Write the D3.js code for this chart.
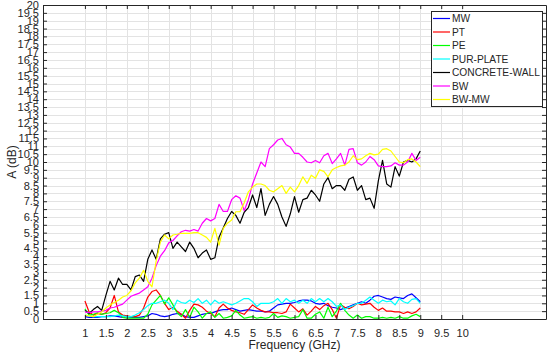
<!DOCTYPE html>
<html>
<head>
<meta charset="utf-8">
<script src="https://cdn.jsdelivr.net/npm/d3@7"></script>
<style>
  body { margin: 0; background: #fff; }
  text { font-family: "Liberation Sans", Arial, sans-serif; fill: #262626; }
</style>
</head>
<body>
<svg id="chart"></svg>
<script>
// frequency samples, 1 to 9 GHz every 0.1 GHz
const freq = d3.range(81).map(i => +(1 + i * 0.1).toFixed(1));

const mw = [0.15,0.1,0.1,0.1,0.15,0.15,0.2,0.2,0.15,0.1,
  0.15,0.1,0.1,0.1,0.15,0.2,0.35,0.3,0.2,0.15,
  0.2,0.3,0.35,0.3,0.15,0.1,0.1,0.2,0.3,0.35,
  0.35,0.45,0.55,0.6,0.6,0.7,0.6,0.5,0.55,0.6,
  0.55,0.5,0.5,0.45,0.5,0.7,0.9,0.95,1.0,1.0,
  1.05,1.15,1.2,1.2,1.15,1.0,0.95,1.0,0.85,0.75,
  0.7,0.6,0.7,0.8,0.9,1.0,1.1,1.0,1.2,1.45,
  1.5,1.4,1.3,1.25,1.4,1.35,1.3,1.5,1.6,1.35,1.1];

const pt = [1.15,0.45,0.25,0.35,0.3,0.4,0.7,1.5,0.45,0.25,
  0.2,0.15,0.15,0.25,0.7,1.4,1.75,1.85,1.5,1.0,
  0.6,0.75,0.5,0.3,0.05,0.55,0.95,0.9,0.75,0.5,
  0.35,0.15,0.7,0.95,0.7,0.55,0.45,0.4,0.3,0.6,
  0.9,0.7,0.55,0.45,0.45,0.4,0.4,0.35,0.45,0.95,
  0.7,0.45,0.65,0.25,0.5,0.8,0.6,0.85,1.0,0.6,
  0.05,0.9,0.75,0.65,0.8,1.0,0.9,0.95,1.0,0.75,
  0.55,0.7,0.5,0.5,0.45,0.45,0.35,0.45,0.35,0.45,0.7];

const pe = [0.65,0.25,0.3,0.4,0.3,0.35,0.4,0.55,0.4,0.1,
  0.05,0.05,0.05,0.05,0.05,0.3,0.9,1.2,1.5,0.95,
  1.35,0.9,0.4,0.15,0.6,0.1,0.75,0.45,0.05,0.35,
  0.45,0.1,0.35,0.05,0.1,0.2,0.55,0.25,0.05,0.1,
  0.15,0.05,0.1,0.05,0.1,0.35,0.1,0.2,0.15,0.05,
  0.1,0.15,0.6,0.05,0.05,0.3,0.45,0.05,0.75,0.15,
  0.5,1.0,0.55,0.25,0.05,0.25,0.05,0.15,0.15,0.05,
  0.05,0.1,0.05,0.1,0.05,0.15,0.05,0.05,0.2,0.3,0.15];

const pur = [0.25,0.2,0.15,0.15,0.15,0.15,0.15,0.2,0.25,0.2,
  0.15,0.15,0.25,0.4,0.6,0.85,1.0,1.0,1.1,1.2,
  1.0,0.6,1.2,1.05,1.0,1.2,1.05,1.3,1.0,1.2,
  0.9,1.2,1.0,1.1,1.0,0.9,1.0,1.15,1.3,1.3,
  1.1,0.8,1.0,1.0,1.0,1.1,1.3,1.0,1.3,1.1,
  1.2,1.0,1.2,1.0,1.3,1.1,1.3,1.1,1.3,1.1,
  0.8,0.9,0.6,0.75,0.85,1.0,1.0,1.2,1.4,1.2,
  1.0,1.2,1.1,1.15,0.9,1.3,1.1,1.0,1.25,1.3,1.0];

const concrete = [0.55,0.35,0.6,0.8,0.55,1.5,2.4,1.85,2.6,2.2,
  2.2,1.85,2.7,2.8,2.4,3.8,4.4,3.8,5.1,5.4,
  5.5,4.5,4.9,4.6,4.3,4.9,4.5,3.9,4.2,4.4,
  3.8,3.9,5.2,5.8,6.4,6.85,6.6,6.1,6.8,7.1,
  7.9,7.1,8.3,6.6,7.3,7.8,7.3,6.5,5.9,6.7,
  7.8,6.8,7.6,7.7,8.2,7.9,7.5,8.6,9.0,8.3,
  8.5,8.5,8.2,8.9,9.05,8.2,8.5,7.6,7.7,7.05,
  8.8,10.1,8.6,8.4,9.7,9.1,10.0,10.1,10.0,10.2,10.7];

const bw = [0.45,0.4,0.45,0.45,0.5,0.55,0.7,0.75,0.85,0.95,
  1.2,1.45,1.55,1.65,1.85,2.05,2.6,3.4,4.0,4.35,
  4.85,5.0,5.3,5.56,5.65,5.6,5.7,5.6,6.1,6.4,
  6.25,6.4,7.3,6.85,6.85,7.6,7.85,7.7,6.9,7.6,
  8.6,9.3,10.0,9.7,10.85,11.1,11.4,11.5,11.1,10.95,
  10.55,10.55,10.3,10.0,9.95,10.1,9.95,10.4,10.55,9.9,
  10.2,10.55,9.8,10.8,10.85,9.95,9.8,10.0,10.35,10.15,
  9.75,9.7,9.7,9.75,9.95,9.8,9.8,10.0,10.55,10.1,10.3];

const bwmw = [0.25,0.2,0.15,0.3,0.45,0.7,0.9,1.05,1.2,1.4,
  1.5,1.8,2.3,2.6,3.1,2.4,2.05,3.7,4.9,5.35,
  5.1,5.35,5.4,5.46,5.45,5.45,5.5,5.5,5.35,5.2,
  4.9,5.77,4.7,5.77,6.1,6.3,6.83,6.83,7.4,8.1,
  8.4,8.6,8.6,8.5,8.2,8.1,8.3,8.5,8.0,8.4,
  8.1,8.5,9.06,8.64,9.16,8.96,9.5,9.4,9.06,9.5,
  9.65,9.75,9.8,10.0,10.4,10.15,10.2,10.4,10.55,10.45,
  10.5,10.8,10.85,10.7,10.35,10.0,9.95,10.15,10.2,10.0,9.7];

const seriesNames = ['MW', 'PT', 'PE', 'PUR-PLATE', 'CONCRETE-WALL', 'BW', 'BW-MW'];
const seriesColors = ['#0000ff', '#ff0000', '#00ff00', '#00ffff', '#000000', '#ff00ff', '#ffff00'];
const seriesValues = [mw, pt, pe, pur, concrete, bw, bwmw];

const xTicks = [1,1.5,2,2.5,3,3.5,4,4.5,5,5.5,6,6.5,7,7.5,8,8.5,9,9.5,10];
const yTicks = d3.range(0, 20.01, 0.5);

const width = 550, height = 355;
const margin = {top: 5, right: 4, bottom: 36, left: 43};
const iw = width - margin.left - margin.right;
const ih = height - margin.top - margin.bottom;

const svg = d3.select('#chart').attr('width', width).attr('height', height);
const g = svg.append('g').attr('transform', `translate(${margin.left},${margin.top})`);

const x = d3.scaleLinear().domain([0, 12]).range([0, iw]);
const y = d3.scaleLinear().domain([0, 20]).range([ih, 0]);

// grid
g.append('g').selectAll('line').data(xTicks).join('line')
  .attr('x1', d => Math.round(x(d)) + 0.5).attr('x2', d => Math.round(x(d)) + 0.5)
  .attr('y1', 0).attr('y2', ih)
  .attr('stroke', '#e3e3e3').attr('stroke-width', 1);
g.append('g').selectAll('line').data(yTicks).join('line')
  .attr('x1', 0).attr('x2', iw)
  .attr('y1', d => Math.round(y(d)) + 0.5).attr('y2', d => Math.round(y(d)) + 0.5)
  .attr('stroke', '#e3e3e3').attr('stroke-width', 1);

// series
const line = d3.line().x((d, i) => x(freq[i])).y(d => y(d));
seriesValues.forEach((vals, k) => {
  g.append('path')
    .datum(vals)
    .attr('fill', 'none')
    .attr('stroke', seriesColors[k])
    .attr('stroke-width', 1.2)
    .attr('stroke-linejoin', 'round')
    .attr('d', line);
});

// axes (ticks pointing inward, MATLAB style)
const xAxis = g.append('g')
  .attr('transform', `translate(0,${ih})`)
  .call(d3.axisBottom(x).tickValues(xTicks).tickSizeInner(-4).tickSizeOuter(0).tickPadding(10)
    .tickFormat(d3.format('')));
const yAxis = g.append('g')
  .call(d3.axisLeft(y).tickValues(yTicks).tickSizeInner(-4).tickSizeOuter(0).tickPadding(4)
    .tickFormat(d3.format('')));
const xTop = g.append('g')
  .call(d3.axisTop(x).tickValues(xTicks).tickSizeInner(-4).tickSizeOuter(0).tickFormat(''));
const yRight = g.append('g')
  .attr('transform', `translate(${iw},0)`)
  .call(d3.axisRight(y).tickValues(yTicks).tickSizeInner(-4).tickSizeOuter(0).tickFormat(''));

[xAxis, yAxis, xTop, yRight].forEach(a => {
  a.select('.domain').attr('stroke', '#262626');
  a.selectAll('.tick line').attr('stroke', '#262626');
  a.selectAll('.tick text').style('font-size', '11px').style('font-family', '"Liberation Sans", Arial, sans-serif').attr('fill', '#262626');
});

// axis labels
svg.append('text')
  .attr('x', margin.left + iw / 2).attr('y', 349)
  .attr('text-anchor', 'middle')
  .style('font-size', '12px')
  .text('Frequency (GHz)');
svg.append('text')
  .attr('transform', `translate(16,${margin.top + ih / 2}) rotate(-90)`)
  .attr('text-anchor', 'middle')
  .style('font-size', '12px')
  .text('A (dB)');

// legend
const lg = svg.append('g').attr('transform', 'translate(431,11)');
lg.append('rect')
  .attr('x', 0.5).attr('y', 0.5).attr('width', 111).attr('height', 95)
  .attr('fill', '#fff').attr('stroke', '#262626').attr('stroke-width', 1);
seriesNames.forEach((name, k) => {
  const yy = 7.5 + k * 13.5;
  lg.append('line')
    .attr('x1', 2).attr('x2', 19).attr('y1', yy).attr('y2', yy)
    .attr('stroke', seriesColors[k]).attr('stroke-width', 1.2);
  lg.append('text')
    .attr('x', 21).attr('y', yy + 3.7)
    .style('font-size', '10.2px')
    .text(name);
});
</script>
</body>
</html>
